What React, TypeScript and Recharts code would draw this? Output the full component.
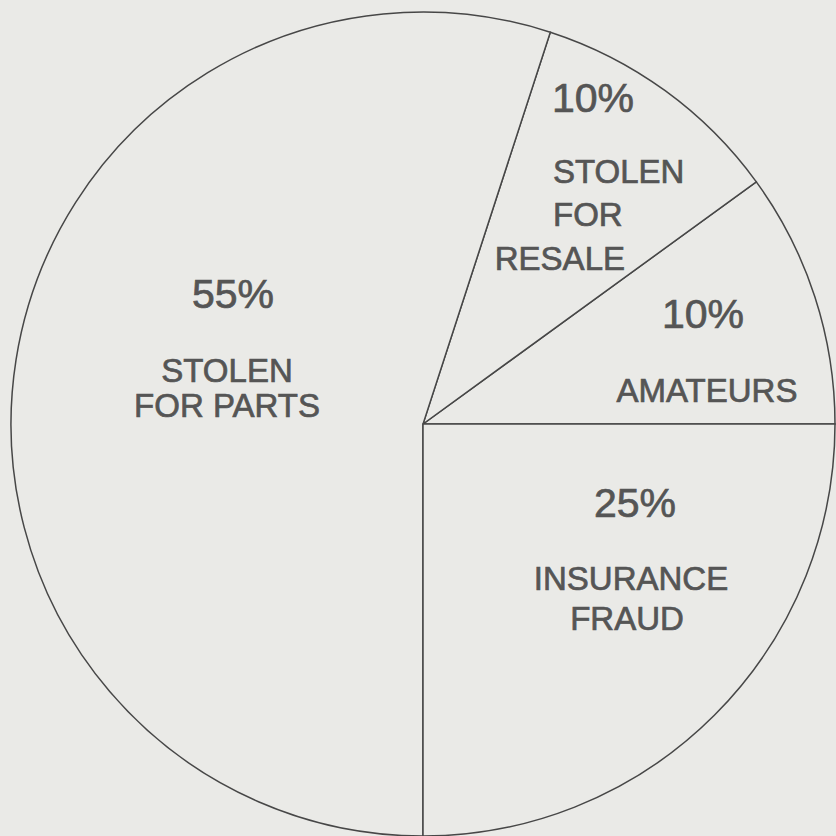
import React from "react";
import { PieChart, Pie, Cell } from "recharts";

const categories = ["AMATEURS", "STOLEN FOR RESALE", "STOLEN FOR PARTS", "INSURANCE FRAUD"];
const shares = [10, 10, 55, 25];
const percentLabels = ["10%", "10%", "55%", "25%"];
const nameLines = [
  ["AMATEURS"],
  ["STOLEN", "FOR", "RESALE"],
  ["STOLEN", "FOR PARTS"],
  ["INSURANCE", "FRAUD"],
];

const data = categories.map((name, i) => ({ name, value: shares[i] }));

// where each slice's text sits, as offsets from the pie centre (hand placed like the original)
const labelLayout = [
  { pct: { dx: 280, dy: -96, anchor: "middle" }, lines: [{ dx: 284, dy: -22, anchor: "middle" }] },
  {
    pct: { dx: 129, dy: -312, anchor: "start" },
    lines: [
      { dx: 130, dy: -241, anchor: "start" },
      { dx: 130, dy: -198, anchor: "start" },
      { dx: 202, dy: -154, anchor: "end" },
    ],
  },
  {
    pct: { dx: -190, dy: -116, anchor: "middle" },
    lines: [
      { dx: -196, dy: -42, anchor: "middle" },
      { dx: -196, dy: -7, anchor: "middle" },
    ],
  },
  {
    pct: { dx: 212, dy: 93, anchor: "middle" },
    lines: [
      { dx: 208, dy: 166, anchor: "middle" },
      { dx: 204, dy: 206, anchor: "middle" },
    ],
  },
];

const INK = "#474747";
const TEXT = "#555555";
const PAPER = "#eaeae7";
const FONT = "'Liberation Sans', Arial, sans-serif";

const renderLabel = (props: any) => {
  const { cx, cy, index } = props;
  const layout = labelLayout[index];
  return (
    <g key={`lbl-${index}`}>
      <text
        x={cx + layout.pct.dx}
        y={cy + layout.pct.dy}
        textAnchor={layout.pct.anchor}
        fill={TEXT}
        stroke={TEXT}
        strokeWidth={0.7}
        fontSize={41}
        fontFamily={FONT}
      >
        {percentLabels[index]}
      </text>
      {nameLines[index].map((line, j) => (
        <text
          key={j}
          x={cx + layout.lines[j].dx}
          y={cy + layout.lines[j].dy}
          textAnchor={layout.lines[j].anchor}
          fill={TEXT}
          stroke={TEXT}
          strokeWidth={0.7}
          fontSize={33}
          fontFamily={FONT}
        >
          {line}
        </text>
      ))}
    </g>
  );
};

export default function App() {
  return (
    <div style={{ position: "fixed", left: 0, top: 0, width: 836, height: 836, background: PAPER, overflow: "hidden" }}>
      <PieChart width={836} height={836} margin={{ top: 0, right: 0, bottom: 0, left: 0 }}>
        <Pie
          data={data}
          dataKey="value"
          cx={423}
          cy={424}
          innerRadius={0}
          outerRadius={412}
          startAngle={0}
          endAngle={360}
          stroke={INK}
          strokeWidth={1.5}
          label={renderLabel}
          labelLine={false}
          isAnimationActive={false}
        >
          {data.map((entry, index) => (
            <Cell key={`cell-${index}`} fill={PAPER} stroke={INK} strokeWidth={1.5} />
          ))}
        </Pie>
      </PieChart>
    </div>
  );
}
